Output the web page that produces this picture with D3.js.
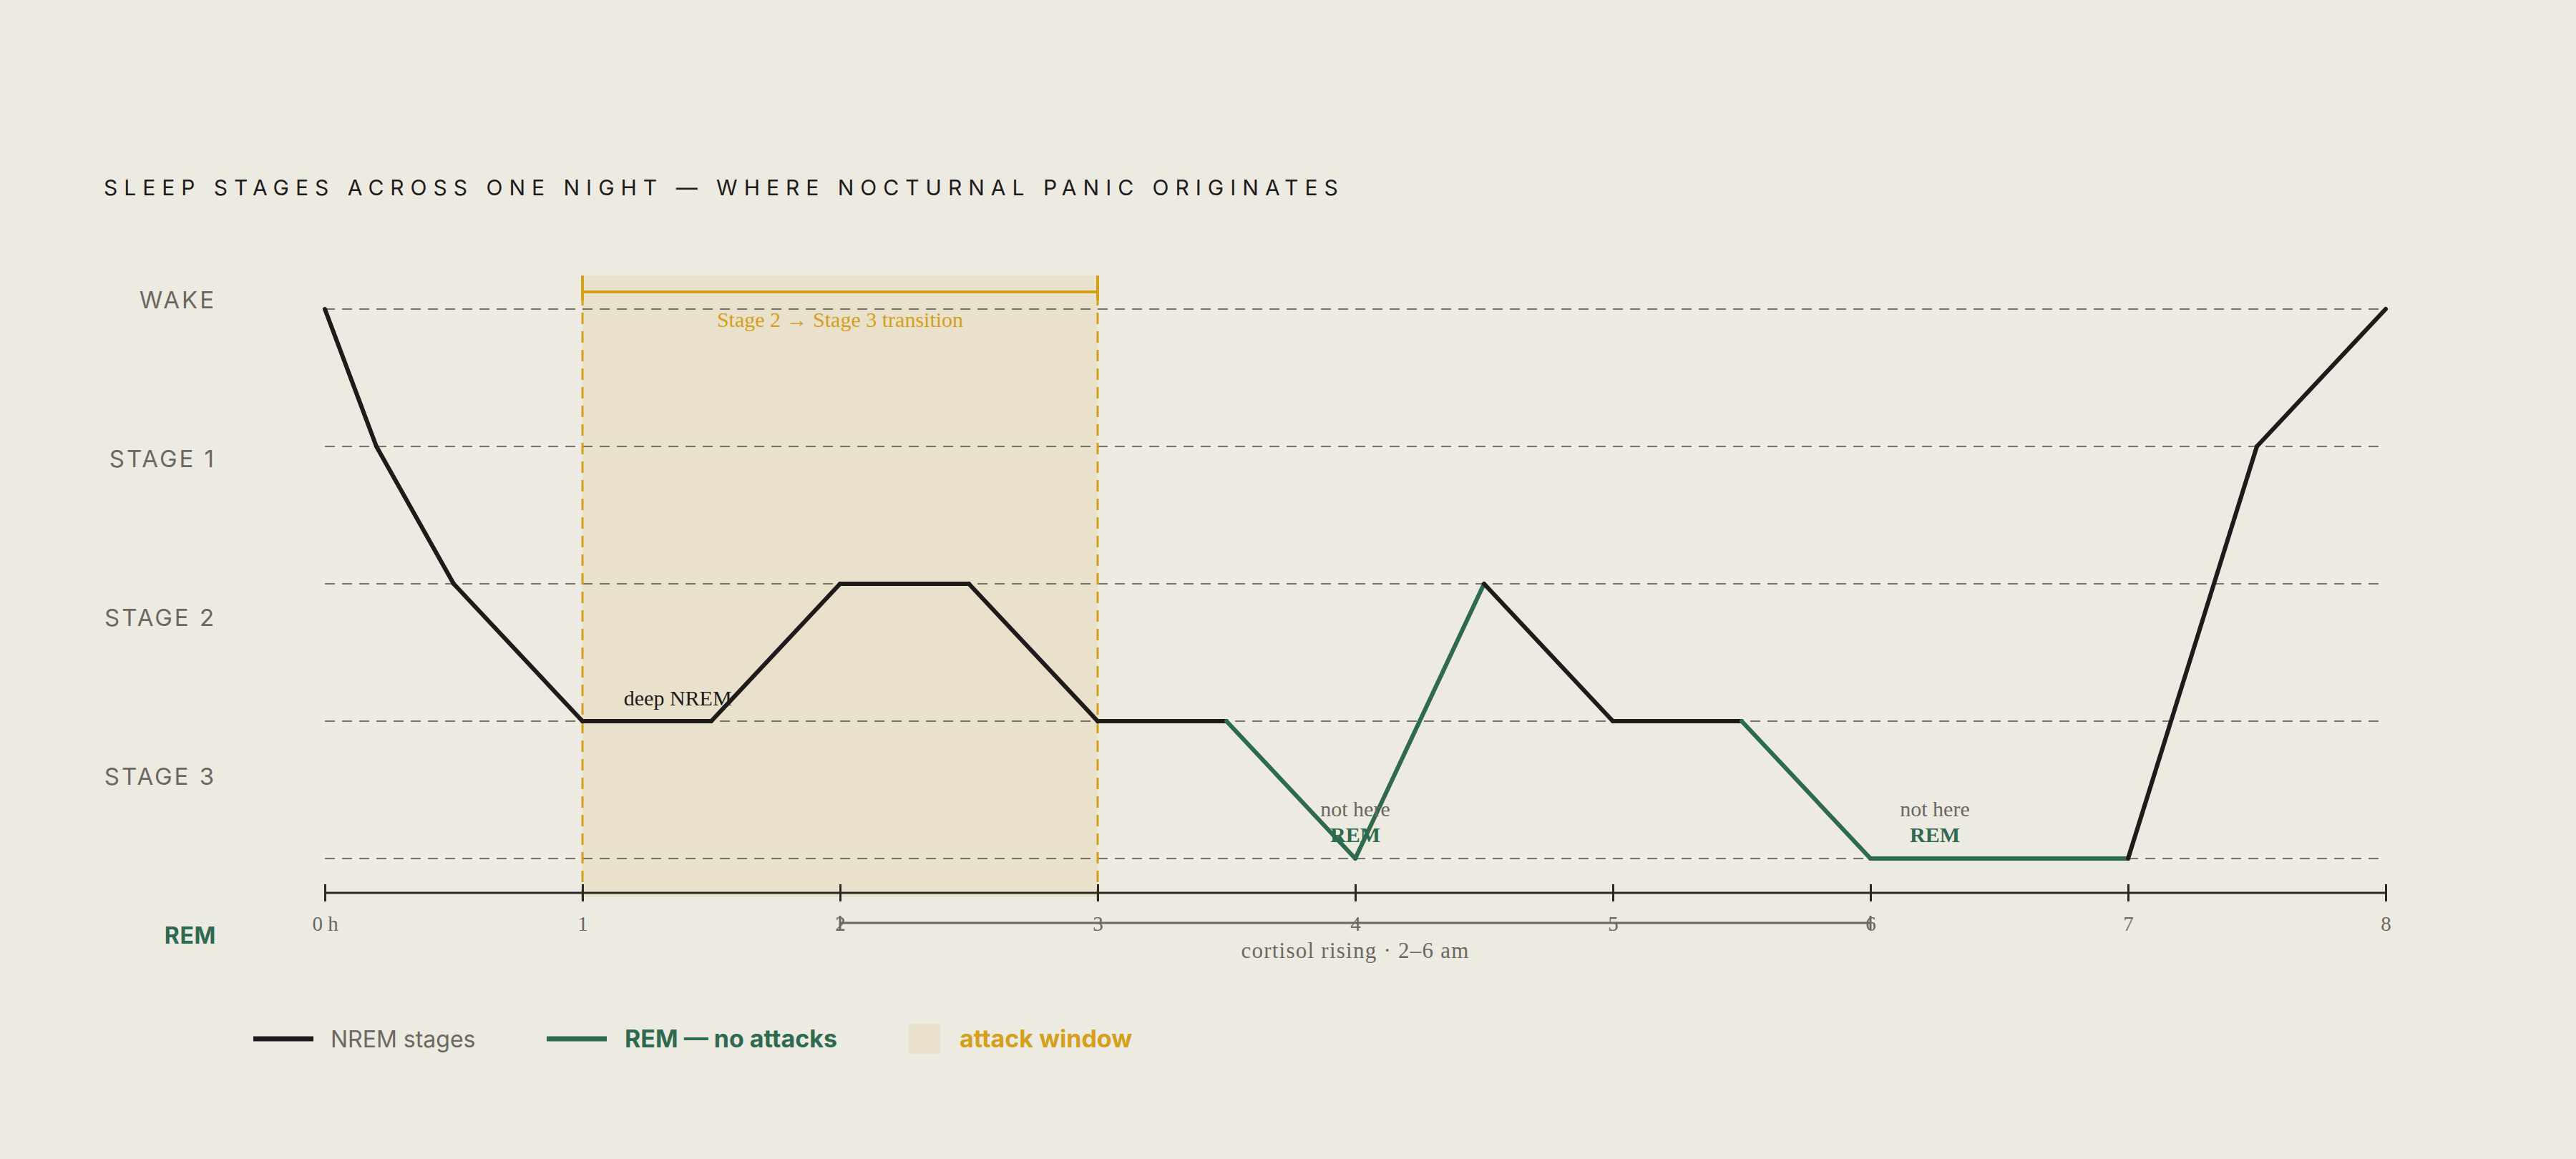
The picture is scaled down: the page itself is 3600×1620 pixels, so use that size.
<!DOCTYPE html>
<html>
<head>
<meta charset="utf-8">
<script src="https://cdn.jsdelivr.net/npm/d3@7"></script>
<style>
  html, body { margin: 0; padding: 0; background: #edeae2; }
  svg { display: block; }
</style>
</head>
<body>
<div id="chart"></div>
<script>
// stage levels, top to bottom
const STAGES = ["WAKE", "STAGE 1", "STAGE 2", "STAGE 3", "REM"];

// hypnogram points (hours since sleep onset, stage)
const HOURS = [0, 0.2, 0.5, 1, 1.5, 2, 2.5, 3, 3.5, 4, 4.5, 5, 5.5, 6, 7, 7.5, 8];
const STAGE_AT = ["WAKE", "STAGE 1", "STAGE 2", "STAGE 3", "STAGE 3", "STAGE 2", "STAGE 2", "STAGE 3",
                  "STAGE 3", "REM", "STAGE 2", "STAGE 3", "STAGE 3", "REM", "REM", "STAGE 1", "WAKE"];
// kind of each segment between consecutive points
const SEGMENT_KIND = ["nrem", "nrem", "nrem", "nrem", "nrem", "nrem", "nrem", "nrem",
                      "rem", "rem", "nrem", "nrem", "rem", "rem", "nrem", "nrem"];

const HOUR_TICKS = [0, 1, 2, 3, 4, 5, 6, 7, 8];
const ATTACK_WINDOW = [1, 3];
const CORTISOL_WINDOW = [2, 6];
const REM_NOTES = [4, 6.25];

const COLORS = { nrem: "#1d1c1a", rem: "#2d6a4f", gold: "#d4a01a", window: "#e9e1cb", grey: "#6b6862" };
const SANS = "Inter, 'DejaVu Sans', sans-serif";
const SERIF = "'Liberation Serif', 'DejaVu Serif', serif";

const W = 3600, H = 1620;
const svg = d3.select("#chart").append("svg")
    .attr("width", W)
    .attr("height", H);

const x = d3.scaleLinear().domain([0, 8]).range([454, 3334]);
const y = d3.scalePoint().domain(STAGES).range([432, 1200]);
const yLabel = d3.scalePoint().domain(STAGES).range([419, 1307]);
const axisY = 1248;

// title
svg.append("text")
    .attr("x", 145)
    .attr("y", 273)
    .text("SLEEP STAGES ACROSS ONE NIGHT — WHERE NOCTURNAL PANIC ORIGINATES")
    .attr("font-family", SANS)
    .attr("font-size", "30px")
    .attr("letter-spacing", "0.3em")
    .attr("fill", "#1d1c1a");

// attack window shading
svg.append("rect")
    .attr("x", x(ATTACK_WINDOW[0]))
    .attr("y", 385)
    .attr("width", x(ATTACK_WINDOW[1]) - x(ATTACK_WINDOW[0]))
    .attr("height", 1254 - 385)
    .attr("fill", COLORS.window);

// stage gridlines
svg.append("g").selectAll("line")
    .data(STAGES)
    .join("line")
    .attr("x1", x(0))
    .attr("x2", x(8))
    .attr("y1", d => y(d))
    .attr("y2", d => y(d))
    .attr("stroke", "#75716b")
    .attr("stroke-width", 2)
    .attr("stroke-dasharray", "14 10");

// window edges
svg.append("g").selectAll("line")
    .data(ATTACK_WINDOW)
    .join("line")
    .attr("x1", d => x(d))
    .attr("x2", d => x(d))
    .attr("y1", 385)
    .attr("y2", 1263)
    .attr("stroke", COLORS.gold)
    .attr("stroke-width", 3)
    .attr("stroke-dasharray", "16 10");

// bracket above the window
const br = svg.append("g").attr("stroke", COLORS.gold).attr("stroke-width", 4);
br.append("line")
    .attr("x1", x(ATTACK_WINDOW[0])).attr("x2", x(ATTACK_WINDOW[1]))
    .attr("y1", 408).attr("y2", 408);
br.selectAll(".end")
    .data(ATTACK_WINDOW)
    .join("line")
    .attr("class", "end")
    .attr("x1", d => x(d)).attr("x2", d => x(d))
    .attr("y1", 386).attr("y2", 420);

svg.append("text")
    .attr("x", x(d3.mean(ATTACK_WINDOW)))
    .attr("y", 457)
    .attr("text-anchor", "middle")
    .text("Stage 2 → Stage 3 transition")
    .attr("font-family", SERIF)
    .attr("font-size", "30px")
    .attr("fill", COLORS.gold);

// y labels
svg.append("g").selectAll("text")
    .data(STAGES)
    .join("text")
    .attr("x", 302)
    .attr("y", d => yLabel(d))
    .attr("dy", "0.36em")
    .attr("text-anchor", "end")
    .text(d => d)
    .attr("font-family", SANS)
    .attr("font-size", d => d === "REM" ? "32px" : "33px")
    .attr("letter-spacing", d => d === "REM" ? "0.02em" : "0.09em")
    .attr("font-weight", d => d === "REM" ? 700 : 400)
    .attr("fill", d => d === "REM" ? COLORS.rem : COLORS.grey);

// hypnogram, segment by segment
const points = HOURS.map((h, i) => ({ hour: h, stage: STAGE_AT[i] }));
const segments = SEGMENT_KIND.map((kind, i) => ({ kind, pts: [points[i], points[i + 1]] }));
const line = d3.line().x(d => x(d.hour)).y(d => y(d.stage));

svg.append("g").selectAll("path")
    .data(segments)
    .join("path")
    .attr("d", d => line(d.pts))
    .attr("fill", "none")
    .attr("stroke", d => COLORS[d.kind])
    .attr("stroke-width", 6)
    .attr("stroke-linecap", "round")
    .attr("stroke-linejoin", "round");

// deep NREM label
svg.append("text")
    .attr("x", x(1.37))
    .attr("y", y("STAGE 3") - 22)
    .attr("text-anchor", "middle")
    .text("deep NREM")
    .attr("font-family", SERIF)
    .attr("font-size", "30px")
    .attr("fill", "#1d1c1a");

// REM notes
const notes = svg.append("g").selectAll("g")
    .data(REM_NOTES)
    .join("g")
    .attr("transform", d => `translate(${x(d)},0)`);
notes.append("text")
    .attr("y", 1141)
    .attr("text-anchor", "middle")
    .text("not here")
    .attr("font-family", SERIF)
    .attr("font-size", "30px")
    .attr("fill", COLORS.grey);
notes.append("text")
    .attr("y", 1177)
    .attr("text-anchor", "middle")
    .text("REM")
    .attr("font-family", SERIF)
    .attr("font-size", "30px")
    .attr("font-weight", 700)
    .attr("fill", COLORS.rem);

// x axis
const xAxis = svg.append("g")
    .attr("transform", `translate(0,${axisY})`)
    .call(d3.axisBottom(x)
        .tickValues(HOUR_TICKS)
        .tickSize(12)
        .tickFormat(d => d === 0 ? "0 h" : d));
xAxis.select(".domain")
    .attr("d", `M${x(0)},0H${x(8)}`)
    .attr("stroke", "#2a2927")
    .attr("stroke-width", 3);
xAxis.selectAll(".tick line")
    .attr("y1", -12)
    .attr("stroke", "#2a2927")
    .attr("stroke-width", 3);
xAxis.selectAll(".tick text")
    .attr("y", 32)
    .attr("dy", "0.71em")
    .attr("font-family", SERIF)
    .attr("font-size", "29px")
    .attr("fill", COLORS.grey);

// cortisol bracket
const cy = 1290;
const cb = svg.append("g").attr("stroke", COLORS.grey).attr("stroke-width", 3);
cb.append("line")
    .attr("x1", x(CORTISOL_WINDOW[0])).attr("x2", x(CORTISOL_WINDOW[1]))
    .attr("y1", cy).attr("y2", cy);
cb.selectAll(".end")
    .data(CORTISOL_WINDOW)
    .join("line")
    .attr("class", "end")
    .attr("x1", d => x(d)).attr("x2", d => x(d))
    .attr("y1", cy - 10).attr("y2", cy + 10);
svg.append("text")
    .attr("x", x(d3.mean(CORTISOL_WINDOW)))
    .attr("y", 1339)
    .attr("text-anchor", "middle")
    .text("cortisol rising · 2–6 am")
    .attr("font-family", SERIF)
    .attr("font-size", "31px")
    .attr("letter-spacing", "0.04em")
    .attr("fill", COLORS.grey);

// legend
const legendY = 1452;
const legend = svg.append("g");
legend.append("line")
    .attr("x1", 354).attr("x2", 438)
    .attr("y1", legendY).attr("y2", legendY)
    .attr("stroke", COLORS.nrem).attr("stroke-width", 7);
legend.append("text")
    .attr("x", 462).attr("y", legendY).attr("dy", "0.36em")
    .text("NREM stages")
    .attr("font-family", SANS).attr("font-size", "32px")
    .attr("fill", COLORS.grey);
legend.append("line")
    .attr("x1", 764).attr("x2", 848)
    .attr("y1", legendY).attr("y2", legendY)
    .attr("stroke", COLORS.rem).attr("stroke-width", 7);
legend.append("text")
    .attr("x", 873).attr("y", legendY).attr("dy", "0.36em")
    .text("REM — no attacks")
    .attr("font-family", SANS).attr("font-size", "34px").attr("font-weight", 700)
    .attr("fill", COLORS.rem);
legend.append("rect")
    .attr("x", 1270).attr("y", legendY - 21)
    .attr("width", 44).attr("height", 42)
    .attr("fill", COLORS.window);
legend.append("text")
    .attr("x", 1341).attr("y", legendY).attr("dy", "0.36em")
    .text("attack window")
    .attr("font-family", SANS).attr("font-size", "34px").attr("font-weight", 700)
    .attr("fill", COLORS.gold);
</script>
</body>
</html>
